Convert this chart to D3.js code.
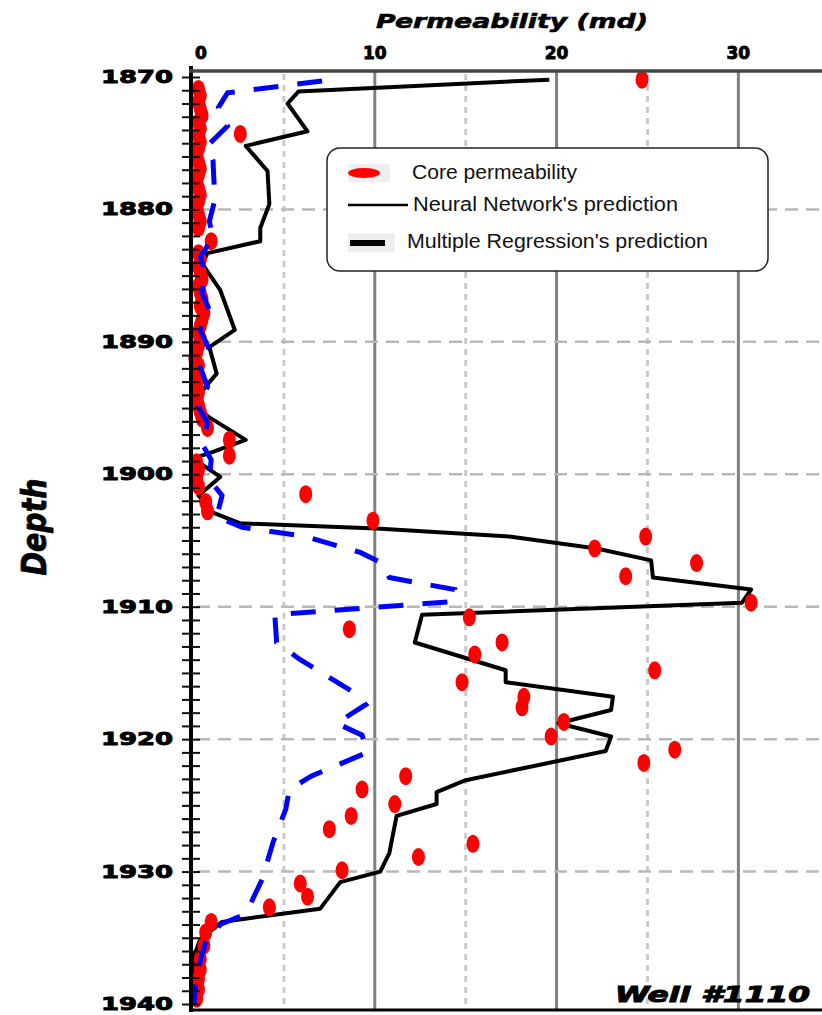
<!DOCTYPE html>
<html>
<head>
<meta charset="utf-8">
<script src="https://cdn.jsdelivr.net/npm/d3@7"></script>
<style>
  body { margin: 0; background: #fff; }
</style>
</head>
<body>
<div id="chart"></div>
<script>
// core permeability samples (depth, md)
const coreDepth = [1870.2, 1870.9, 1871.4, 1871.9, 1872.4, 1872.9, 1873.4, 1873.9, 1874.3, 1874.4,
    1874.9, 1875.4, 1875.9, 1876.4, 1876.9, 1877.4, 1877.9, 1878.4, 1878.9, 1879.4,
    1879.9, 1880.4, 1880.9, 1881.4, 1882.4, 1883.3, 1883.8, 1884.3, 1884.8, 1885.3,
    1885.8, 1886.3, 1886.8, 1887.3, 1887.8, 1888.3, 1888.8, 1889.3, 1889.8, 1890.3,
    1890.8, 1891.3, 1891.8, 1892.3, 1892.8, 1893.3, 1893.8, 1894.3, 1894.8, 1895.3,
    1895.8, 1896.5, 1897.4, 1898.6, 1899.1, 1899.7, 1900.3, 1900.9, 1901.5, 1902.1,
    1902.8, 1903.5, 1904.7, 1905.6, 1906.7, 1907.7, 1909.7, 1910.8, 1911.7, 1912.7,
    1913.6, 1914.8, 1915.7, 1916.8, 1917.6, 1918.7, 1919.8, 1920.8, 1921.8, 1922.8,
    1923.8, 1924.9, 1925.8, 1926.8, 1927.9, 1928.9, 1929.9, 1930.9, 1931.9, 1932.7,
    1933.8, 1934.6, 1935.6, 1936.6, 1937.4, 1938.1, 1938.9, 1939.6];
const corePerm = [24.7, 0.3, 0.4, 0.3, 0.4, 0.5, 0.3, 0.4, 2.6, 0.3,
    0.4, 0.3, 0.2, 0.3, 0.4, 0.3, 0.2, 0.3, 0.4, 0.3,
    0.2, 0.3, 0.4, 0.3, 1.0, 0.3, 0.4, 0.3, 0.4, 0.5,
    0.3, 0.4, 0.5, 0.4, 0.6, 0.5, 0.4, 0.3, 0.4, 0.3,
    0.2, 0.1, 0.3, 0.2, 0.3, 0.2, 0.3, 0.2, 0.3, 0.4,
    0.5, 0.8, 2.0, 2.0, 0.2, 0.3, 0.2, 0.3, 6.2, 0.7,
    0.8, 9.9, 24.9, 22.1, 27.7, 23.8, 30.7, 15.2, 8.6, 17.0,
    15.5, 25.4, 14.8, 18.2, 18.1, 20.4, 19.7, 26.5, 24.8, 11.7,
    9.3, 11.1, 8.7, 7.5, 15.4, 12.4, 8.2, 5.9, 6.3, 4.2,
    1.0, 0.7, 0.6, 0.4, 0.4, 0.3, 0.3, 0.2];

// neural network prediction
const nnDepth = [1870.2, 1871.1, 1872.0, 1874.1, 1875.2, 1877.1, 1879.6, 1881.4, 1882.4, 1883.3,
    1884.1, 1886.1, 1889.1, 1890.4, 1892.4, 1893.7, 1895.2, 1895.7, 1897.4, 1898.4,
    1898.8, 1900.2, 1901.6, 1902.9, 1903.7, 1904.1, 1904.7, 1905.6, 1906.5, 1907.8,
    1908.7, 1909.7, 1910.6, 1912.7, 1914.8, 1915.7, 1916.8, 1917.8, 1918.8, 1919.8,
    1920.9, 1923.1, 1924.0, 1924.9, 1925.8, 1928.6, 1930.0, 1930.8, 1932.8, 1933.8,
    1935.1, 1936.6, 1940.0];
const nnPerm = [19.6, 5.8, 5.2, 6.3, 2.9, 4.1, 4.2, 3.7, 3.7, 0.8,
    0.5, 1.5, 2.3, 0.9, 1.3, 0.5, 0.4, 0.9, 2.9, 0.9,
    0.0, 1.5, 0.3, 1.1, 2.6, 10.1, 17.4, 22.2, 25.2, 25.3,
    30.7, 30.2, 12.6, 12.2, 17.2, 17.2, 23.1, 23.0, 20.1, 23.0,
    22.7, 15.0, 13.4, 13.4, 11.2, 10.8, 10.3, 8.1, 7.0, 1.6,
    0.4, 0.0, 0.0];

// multiple regression prediction
const mrDepth = [1870.3, 1871.2, 1872.3, 1873.7, 1875.2, 1876.3, 1879.3, 1880.9, 1882.1, 1883.6,
    1884.8, 1886.3, 1887.6, 1889.1, 1890.6, 1891.9, 1893.4, 1894.9, 1896.1, 1897.7,
    1898.9, 1900.4, 1901.6, 1903.2, 1904.0, 1904.7, 1905.9, 1906.7, 1907.8, 1908.7,
    1909.6, 1910.6, 1912.7, 1914.0, 1916.6, 1917.4, 1918.8, 1919.7, 1921.0, 1922.8,
    1923.8, 1925.3, 1927.8, 1930.6, 1933.2, 1934.0, 1935.3, 1937.7, 1940.0];
const mrPerm = [7.1, 1.9, 1.4, 1.9, 0.8, 1.1, 1.2, 0.9, 1.1, 0.4,
    0.7, 0.5, 0.9, 0.4, 0.9, 0.4, 0.8, 0.3, 0.8, 0.5,
    1.0, 0.9, 1.6, 1.3, 2.7, 6.2, 9.2, 10.4, 10.8, 14.4,
    14.4, 4.5, 4.6, 5.9, 9.0, 9.5, 7.9, 9.3, 9.6, 6.5,
    5.3, 5.1, 4.4, 3.8, 2.9, 1.5, 0.7, 0.2, 0.05];

const permTicks = [0, 10, 20, 30];
const permHalfTicks = [5, 15, 25];
const depthLabels = [1870, 1880, 1890, 1900, 1910, 1920, 1930, 1940];
const depthGrid = [1880, 1890, 1900, 1910, 1920, 1930];
const legendLabels = ["Core permeability", "Neural Network's prediction", "Multiple Regression's prediction"];

const width = 822;
const height = 1015;
const heavy = '"DejaVu Sans", sans-serif';

const x = d3.scaleLinear().domain([0, 34.6]).range([193, 822]);
const y = d3.scaleLinear().domain([1870, 1940]).range([77, 1004]);

const svg = d3.select('#chart').append('svg')
    .attr('width', width)
    .attr('height', height);

// vertical grid lines
svg.append('g')
    .selectAll('line')
    .data(permHalfTicks)
    .enter()
    .append('line')
    .attr('x1', d => x(d)).attr('x2', d => x(d))
    .attr('y1', 74).attr('y2', 1009)
    .attr('stroke', '#cacaca')
    .attr('stroke-width', 3)
    .attr('stroke-dasharray', '6,5');

svg.append('g')
    .selectAll('line')
    .data(permTicks.filter(d => d > 0))
    .enter()
    .append('line')
    .attr('x1', d => x(d)).attr('x2', d => x(d))
    .attr('y1', 72).attr('y2', 1009)
    .attr('stroke', '#808080')
    .attr('stroke-width', 3);

// horizontal grid lines
svg.append('g')
    .selectAll('line')
    .data(depthGrid)
    .enter()
    .append('line')
    .attr('x1', 197).attr('x2', width)
    .attr('y1', d => y(d)).attr('y2', d => y(d))
    .attr('stroke', '#b8b8b8')
    .attr('stroke-width', 2.5)
    .attr('stroke-dasharray', '13,8');

// legend
const legend = svg.append('g');
legend.append('rect')
    .attr('x', 327).attr('y', 148)
    .attr('width', 441).attr('height', 123)
    .attr('rx', 13)
    .attr('fill', '#fff')
    .attr('stroke', '#222')
    .attr('stroke-width', 1.5);
legend.append('rect').attr('x', 348).attr('y', 164).attr('width', 42).attr('height', 18).attr('fill', '#eee');
legend.append('ellipse').attr('cx', 364).attr('cy', 173).attr('rx', 16).attr('ry', 5).attr('fill', '#f00');
legend.append('line')
    .attr('x1', 348).attr('x2', 408).attr('y1', 205).attr('y2', 205)
    .attr('stroke', '#000').attr('stroke-width', 2.5);
legend.append('rect').attr('x', 348).attr('y', 233).attr('width', 47).attr('height', 19).attr('fill', '#eee');
legend.append('line')
    .attr('x1', 350).attr('x2', 385).attr('y1', 243).attr('y2', 243)
    .attr('stroke', '#000').attr('stroke-width', 6);
legend.selectAll('text.lab')
    .data(legendLabels)
    .enter()
    .append('text')
    .attr('class', 'lab')
    .attr('x', (d, i) => [412, 413, 407][i])
    .attr('y', (d, i) => [179, 211, 248][i])
    .attr('font-family', '"Liberation Sans", Arial, sans-serif')
    .attr('font-size', 19.5)
    .attr('fill', '#111')
    .attr('textLength', (d, i) => [165, 265, 301][i])
    .attr('lengthAdjust', 'spacingAndGlyphs')
    .text(d => d);

const line = d3.line()
    .x(d => x(d[1]))
    .y(d => y(d[0]));

// neural network prediction
svg.append('path')
    .attr('d', line(d3.zip(nnDepth, nnPerm)))
    .attr('fill', 'none')
    .attr('stroke', '#000')
    .attr('stroke-width', 4)
    .attr('stroke-linejoin', 'round');

// core permeability
svg.append('g')
    .selectAll('ellipse')
    .data(d3.zip(coreDepth, corePerm))
    .enter()
    .append('ellipse')
    .attr('cx', d => x(d[1]))
    .attr('cy', d => y(d[0]))
    .attr('rx', 6.5)
    .attr('ry', 9)
    .attr('fill', '#f00');

// multiple regression prediction
svg.append('path')
    .attr('d', line(d3.zip(mrDepth, mrPerm)))
    .attr('fill', 'none')
    .attr('stroke', '#0000ff')
    .attr('stroke-width', 5)
    .attr('stroke-dasharray', '25,19');

// depth axis with crossing ticks
const yAxis = d3.axisLeft(y)
    .tickValues(d3.range(1870, 1941))
    .tickSize(9)
    .tickFormat(d => depthLabels.includes(d) ? d : '');
const gy = svg.append('g')
    .attr('transform', 'translate(191,0)')
    .call(yAxis);
gy.select('.domain').remove();
gy.selectAll('.tick line')
    .attr('x1', 9)
    .attr('stroke', '#111')
    .attr('stroke-width', 2);
gy.selectAll('.tick text')
    .attr('x', -18)
    .attr('font-family', heavy)
    .attr('font-weight', 'bold')
    .attr('font-size', 17)
    .attr('fill', '#000')
    .attr('stroke', '#000')
    .attr('stroke-width', 0.9)
    .attr('textLength', d => depthLabels.includes(d) ? 72 : null)
    .attr('lengthAdjust', 'spacingAndGlyphs');

svg.append('line')
    .attr('x1', 191).attr('x2', 191).attr('y1', 66).attr('y2', 1012)
    .attr('stroke', '#000').attr('stroke-width', 4);

// top axis
svg.append('line')
    .attr('x1', 189).attr('x2', width).attr('y1', 71).attr('y2', 71)
    .attr('stroke', '#454545').attr('stroke-width', 3.5);
svg.append('g')
    .selectAll('text')
    .data(permTicks)
    .enter()
    .append('text')
    .attr('x', d => x(d) + (d === 0 ? 8 : 0))
    .attr('y', 59)
    .attr('text-anchor', 'middle')
    .attr('font-family', heavy)
    .attr('font-weight', 'bold')
    .attr('font-size', 17)
    .attr('fill', '#000')
    .attr('stroke', '#000')
    .attr('stroke-width', 0.9)
    .text(d => d);

// bottom line
svg.append('line')
    .attr('x1', 189).attr('x2', width).attr('y1', 1010).attr('y2', 1010)
    .attr('stroke', '#000').attr('stroke-width', 3);

// titles
svg.append('text')
    .attr('x', 376).attr('y', 28)
    .attr('font-family', heavy)
    .attr('font-weight', 'bold')
    .attr('font-style', 'italic')
    .attr('font-size', 20)
    .attr('stroke', '#000').attr('stroke-width', 0.6)
    .attr('textLength', 272)
    .attr('lengthAdjust', 'spacingAndGlyphs')
    .text('Permeability (md)');

svg.append('text')
    .attr('transform', 'translate(46,527) rotate(-90)')
    .attr('text-anchor', 'middle')
    .attr('font-family', heavy)
    .attr('font-weight', 'bold')
    .attr('font-style', 'italic')
    .attr('font-size', 34)
    .attr('stroke', '#000').attr('stroke-width', 0.8)
    .attr('textLength', 97)
    .attr('lengthAdjust', 'spacingAndGlyphs')
    .text('Depth');

svg.append('text')
    .attr('x', 615).attr('y', 1002)
    .attr('font-family', heavy)
    .attr('font-weight', 'bold')
    .attr('font-style', 'italic')
    .attr('font-size', 21)
    .attr('stroke', '#000').attr('stroke-width', 1)
    .attr('textLength', 195)
    .attr('lengthAdjust', 'spacingAndGlyphs')
    .text('Well #1110');
</script>
</body>
</html>
